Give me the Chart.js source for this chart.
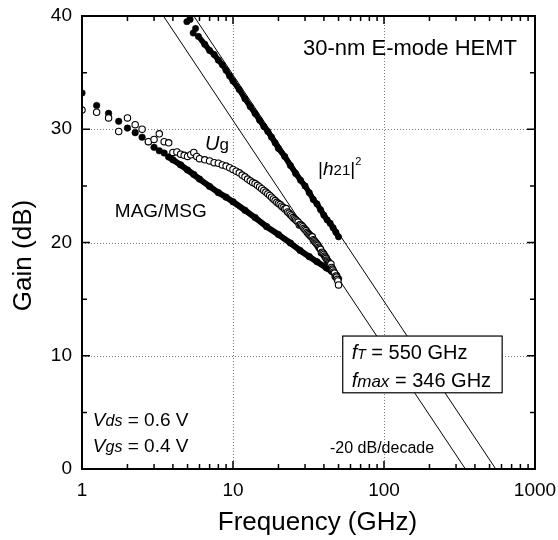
<!DOCTYPE html>
<html>
<head>
<meta charset="utf-8">
<script src="https://cdn.jsdelivr.net/npm/chart.js@4/dist/chart.umd.min.js"></script>
<style>
  html, body { margin: 0; padding: 0; background: #fff; }
  #wrap { width: 558px; height: 540px; }
</style>
</head>
<body>
<div id="wrap"><canvas id="gainChart" width="558" height="540"></canvas></div>
<script>
// MAG/MSG (filled dots), frequency in GHz, gain in dB
const magFreq = [1, 1.25, 1.5, 1.75, 2, 2.25, 2.5, 2.75, 3, 3.25, 3.5, 3.75, 4, 4.5, 5, 5.5, 6, 7, 8, 9, 10,
  12, 14, 16.7, 20, 24, 27.8, 32, 36, 41.6, 45, 48.6, 50];
const magGain = [33.2, 32.1, 31.4, 30.7, 30.1, 29.7, 29.3, 28.9, 28.4, 28.1, 27.9, 27.55, 27.3, 26.85, 26.4, 26.0, 25.6, 24.95, 24.4, 24.0, 23.6,
  22.85, 22.2, 21.4, 20.7, 19.95, 19.3, 18.75, 18.3, 17.75, 17.45, 17.1, 16.8];

// Ug (open circles)
const ugFreq = [1, 1.25, 1.5, 1.75, 2, 2.25, 2.5, 2.75, 3, 3.25, 3.5, 3.75, 4, 4.25, 4.5, 4.75, 5, 5.25, 5.5, 5.75,
  6, 6.5, 7, 7.5, 8, 8.5, 9, 9.5,
  10, 10.5, 11, 11.5, 12, 12.5, 13, 13.5, 14, 14.5, 15, 15.5, 16, 16.5, 17, 17.5, 18, 18.5, 19, 19.5,
  20, 20.5, 21, 21.5, 22, 22.5, 23, 23.5, 24, 24.5, 25, 25.5, 26, 26.5, 27, 27.5, 28, 28.5, 29, 29.5,
  30, 30.5, 31, 31.5, 32, 32.5, 33, 33.5, 34, 34.5, 35, 35.5, 36, 36.5, 37, 37.5, 38, 38.5, 39, 39.5,
  40, 40.5, 41, 41.5, 42, 42.5, 43, 43.5, 44, 44.5, 45, 45.5, 46, 46.5, 47, 47.5, 48, 48.5, 49, 49.5, 50];
const ugGain = [31.7, 31.5, 31.0, 29.8, 31.0, 30.4, 30.0, 28.9, 29.1, 29.6, 28.9, 28.8, 27.95, 28.0, 27.8, 27.7, 27.6, 27.75, 27.95, 27.6,
  27.4, 27.3, 27.2, 27.05, 27.0, 26.85, 26.75, 26.6,
  26.45, 26.3, 26.15, 25.95, 25.8, 25.6, 25.45, 25.3, 25.2, 25.05, 24.9, 24.75, 24.6, 24.45, 24.3, 24.15, 24.0, 23.85, 23.7, 23.55,
  23.45, 23.35, 23.2, 23.1, 22.95, 23.0, 22.7, 22.6, 22.45, 22.35, 22.2, 22.1, 22.0, 21.9, 21.8, 21.55, 21.6, 21.5, 21.4, 21.25,
  21.15, 21.05, 20.9, 20.8, 20.7, 20.6, 20.5, 20.5, 20.25, 20.15, 20.05, 19.95, 19.85, 19.75, 19.6, 19.5, 19.4, 19.1, 19.15, 19.05,
  18.95, 18.8, 18.7, 18.6, 18.45, 18.35, 18.25, 18.15, 18.05, 18.1, 17.8, 17.65, 17.55, 17.4, 17.3, 17.0, 17.05, 16.95, 16.75, 16.6, 16.25];

// |h21|^2 (filled dots)
const h21Freq = [4.95, 5.2, 5.45, 5.65, 5.9, 6.5, 7, 7.5, 8, 8.5, 9, 9.5, 10, 11, 12, 13, 14, 15, 16, 17, 18, 19, 20,
  22, 24, 26, 28, 30, 32, 34, 36, 38, 40, 42, 44, 46, 48, 50];
const h21Gain = [39.5, 39.7, 38.5, 38.9, 38.2, 37.5, 36.95, 36.6, 36.1, 35.7, 35.2, 34.7, 34.25, 33.5, 32.7, 32.0, 31.4, 30.8, 30.25, 29.8, 29.3, 28.8, 28.3,
  27.6, 26.8, 26.1, 25.5, 25.0, 24.4, 23.8, 23.4, 22.9, 22.4, 22.0, 21.7, 21.3, 20.9, 20.5];

// -20 dB/decade extrapolations
const fT = 550;
const fMax = 346;
const rolloff = -20;

const xTicks = [1, 10, 100, 1000];
const xMinor = [2, 3, 4, 5, 6, 7, 8, 9, 20, 30, 40, 50, 60, 70, 80, 90, 200, 300, 400, 500, 600, 700, 800, 900];
const yTicks = [0, 10, 20, 30, 40];
const yMinor = [5, 15, 25, 35];

const FONT = '"Liberation Sans", Arial, Helvetica, sans-serif';

function pairs(xs, ys) {
  return xs.map((v, i) => ({ x: v, y: ys[i] }));
}

function rolloffLine(fc) {
  // gain = rolloff * log10(f / fc), from the top of the axis down to 0 dB
  const top = yTicks[yTicks.length - 1];
  return [
    { x: fc * Math.pow(10, top / rolloff), y: top },
    { x: fc, y: 0 }
  ];
}

function drawRuns(ctx, x, y, runs) {
  let cx = x;
  runs.forEach(r => {
    ctx.font = r.font;
    ctx.fillText(r.text, cx, y + (r.dy || 0));
    cx += ctx.measureText(r.text).width + (r.gap || 0);
  });
}

const framePlugin = {
  id: 'frame',
  beforeDatasetsDraw(chart) {
    const { ctx, chartArea: a, scales: { x, y } } = chart;
    ctx.save();
    ctx.strokeStyle = '#7a7a7a';
    ctx.lineWidth = 1;
    ctx.setLineDash([1, 2]);
    ctx.beginPath();
    xTicks.slice(1, -1).forEach(v => {
      const px = Math.round(x.getPixelForValue(v)) + 0.5;
      ctx.moveTo(px, a.top); ctx.lineTo(px, a.bottom);
    });
    yTicks.slice(1, -1).forEach(v => {
      const py = Math.round(y.getPixelForValue(v)) + 0.5;
      ctx.moveTo(a.left, py); ctx.lineTo(a.right, py);
    });
    ctx.stroke();
    ctx.restore();
  },
  afterDatasetsDraw(chart) {
    const { ctx, chartArea: a, scales: { x, y } } = chart;
    ctx.save();
    ctx.strokeStyle = '#000';
    ctx.fillStyle = '#000';

    // inward ticks on all four sides
    ctx.lineWidth = 1.5;
    ctx.beginPath();
    const xt = (v, len) => {
      const px = x.getPixelForValue(v);
      ctx.moveTo(px, a.bottom); ctx.lineTo(px, a.bottom - len);
      ctx.moveTo(px, a.top); ctx.lineTo(px, a.top + len);
    };
    const yt = (v, len) => {
      const py = y.getPixelForValue(v);
      ctx.moveTo(a.left, py); ctx.lineTo(a.left + len, py);
      ctx.moveTo(a.right, py); ctx.lineTo(a.right - len, py);
    };
    xTicks.forEach(v => xt(v, 8));
    xMinor.forEach(v => xt(v, 5));
    yTicks.forEach(v => yt(v, 8));
    yMinor.forEach(v => yt(v, 5));
    ctx.stroke();

    ctx.lineWidth = 2;
    ctx.strokeRect(a.left, a.top, a.right - a.left, a.bottom - a.top);

    const X = v => x.getPixelForValue(v);
    const Y = v => y.getPixelForValue(v);
    ctx.textBaseline = 'alphabetic';
    ctx.textAlign = 'left';

    drawRuns(ctx, X(29.1), Y(36.56), [{ text: '30-nm E-mode HEMT', font: `22px ${FONT}` }]);
    drawRuns(ctx, X(36.6), Y(25.96), [
      { text: '|', font: `19px ${FONT}` },
      { text: 'h', font: `italic 19px ${FONT}` },
      { text: '21', font: `15px ${FONT}` },
      { text: '|', font: `19px ${FONT}` },
      { text: '2', font: `11px ${FONT}`, dy: -10 }
    ]);
    drawRuns(ctx, X(6.52), Y(28.17), [
      { text: 'U', font: `italic 20px ${FONT}` },
      { text: 'g', font: `17px ${FONT}` }
    ]);
    drawRuns(ctx, X(1.65), Y(22.28), [{ text: 'MAG/MSG', font: `19px ${FONT}` }]);

    // fT / fmax box
    const bx0 = X(53.3), by0 = Y(11.74), bx1 = X(606), by1 = Y(6.73);
    ctx.fillStyle = '#fff';
    ctx.fillRect(bx0, by0, bx1 - bx0, by1 - by0);
    ctx.lineWidth = 1.2;
    ctx.strokeRect(bx0, by0, bx1 - bx0, by1 - by0);
    ctx.fillStyle = '#000';
    drawRuns(ctx, X(61.1), Y(9.69), [
      { text: 'f', font: `italic 20px ${FONT}` },
      { text: 'T', font: `italic 14px ${FONT}` },
      { text: ' = ' + fT + ' GHz', font: `20px ${FONT}` }
    ]);
    drawRuns(ctx, X(61.1), Y(7.27), [
      { text: 'f', font: `italic 20px ${FONT}` },
      { text: 'max', font: `italic 17px ${FONT}` },
      { text: ' = ' + fMax + ' GHz', font: `20px ${FONT}` }
    ]);

    drawRuns(ctx, X(43.9), Y(1.39), [{ text: rolloff + ' dB/decade', font: `16px ${FONT}` }]);

    drawRuns(ctx, X(1.18), Y(3.8), [
      { text: 'V', font: `italic 19px ${FONT}` },
      { text: 'ds', font: `italic 16px ${FONT}` },
      { text: ' = 0.6 V', font: `19px ${FONT}` }
    ]);
    drawRuns(ctx, X(1.18), Y(1.46), [
      { text: 'V', font: `italic 19px ${FONT}` },
      { text: 'gs', font: `italic 16px ${FONT}` },
      { text: ' = 0.4 V', font: `19px ${FONT}` }
    ]);

    // axis titles
    ctx.font = `26px ${FONT}`;
    ctx.textAlign = 'center';
    ctx.fillText('Frequency (GHz)', (a.left + a.right) / 2 + 9, a.bottom + 61);
    ctx.translate(31, (a.top + a.bottom) / 2 + 13);
    ctx.rotate(-Math.PI / 2);
    ctx.fillText('Gain (dB)', 0, 0);
    ctx.restore();
  }
};

new Chart(document.getElementById('gainChart'), {
  type: 'scatter',
  data: {
    datasets: [
      {
        label: '|h21|^2',
        data: pairs(h21Freq, h21Gain),
        showLine: true,
        borderColor: '#000',
        borderWidth: 5.5,
        borderCapStyle: 'round',
        borderJoinStyle: 'round',
        segment: { borderColor: c => (c.p0.parsed.x >= 5.85 ? '#000' : 'rgba(0,0,0,0)') },
        pointRadius: 3.2,
        pointBackgroundColor: '#000',
        pointBorderColor: '#000',
        pointBorderWidth: 0.5,
        order: 1
      },
      {
        label: 'Ug',
        data: pairs(ugFreq, ugGain),
        showLine: false,
        pointRadius: 3.2,
        pointBackgroundColor: '#fff',
        pointBorderColor: '#000',
        pointBorderWidth: 1.1,
        order: 2
      },
      {
        label: 'MAG/MSG',
        data: pairs(magFreq, magGain),
        showLine: true,
        borderColor: '#000',
        borderWidth: 6,
        borderCapStyle: 'round',
        borderJoinStyle: 'round',
        segment: { borderColor: c => (c.p0.parsed.x >= 3.7 ? '#000' : 'rgba(0,0,0,0)') },
        pointRadius: 3.3,
        pointBackgroundColor: '#000',
        pointBorderColor: '#000',
        pointBorderWidth: 0.5,
        order: 3
      },
      {
        label: 'fT',
        data: rolloffLine(fT),
        showLine: true,
        borderColor: '#000',
        borderWidth: 1,
        pointRadius: 0,
        order: 4
      },
      {
        label: 'fmax',
        data: rolloffLine(fMax),
        showLine: true,
        borderColor: '#000',
        borderWidth: 1,
        pointRadius: 0,
        order: 4
      }
    ]
  },
  options: {
    responsive: false,
    animation: false,
    devicePixelRatio: 1,
    layout: { padding: { top: 16, right: 23, left: 0, bottom: 0 } },
    plugins: { legend: { display: false }, tooltip: { enabled: false } },
    scales: {
      x: {
        type: 'logarithmic',
        min: 1,
        max: 1000,
        afterBuildTicks: s => { s.ticks = xTicks.map(v => ({ value: v })); },
        afterFit: s => { s.height = 71; s.paddingLeft = 0; s.paddingRight = 0; },
        grid: { display: false, drawTicks: false },
        border: { display: false },
        ticks: {
          callback: v => String(v),
          font: { family: FONT, size: 19 },
          color: '#000',
          padding: 10,
          maxRotation: 0,
          autoSkip: false
        }
      },
      y: {
        min: 0,
        max: 40,
        afterBuildTicks: s => { s.ticks = yTicks.map(v => ({ value: v })); },
        afterFit: s => { s.width = 82; s.paddingTop = 0; s.paddingBottom = 0; },
        grid: { display: false, drawTicks: false },
        border: { display: false },
        ticks: {
          font: { family: FONT, size: 19 },
          color: '#000',
          padding: 10
        }
      }
    }
  },
  plugins: [framePlugin]
});
</script>
</body>
</html>
